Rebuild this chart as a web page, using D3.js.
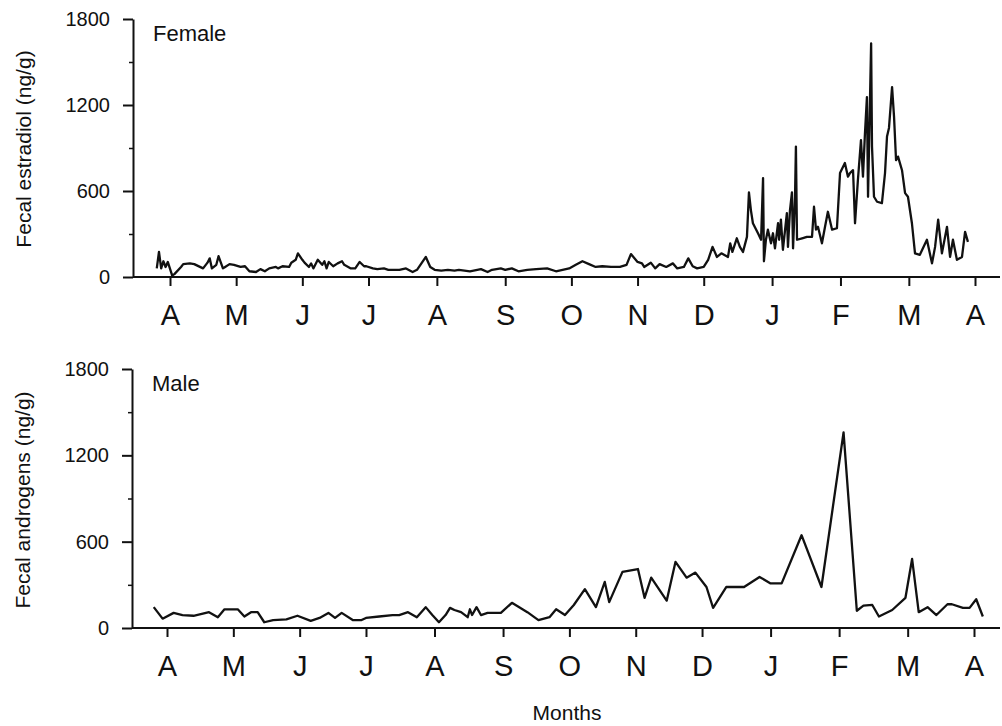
<!DOCTYPE html>
<html>
<head>
<meta charset="utf-8">
<script src="https://cdn.jsdelivr.net/npm/d3@7"></script>
<style>
  body { margin: 0; background: #fff; }
  svg text { font-family: "Liberation Sans", Arial, Helvetica, sans-serif; fill: #111; }
</style>
</head>
<body>
<svg id="chart" width="1002" height="726"></svg>
<script>
// month ticks, in days counted from the first April tick
var monthLabels = ["A", "M", "J", "J", "A", "S", "O", "N", "D", "J", "F", "M", "A"];
var monthTickDays = [0, 30, 60, 90, 121, 152, 182, 212, 242, 273, 304, 335, 365];
var yTicks = [0, 600, 1200, 1800];
var yMinorTicks = [300, 900, 1500];

// female, fecal estradiol (ng/g)
var femaleDays = [-6, -5, -4, -3, -2, -1, 1, 2, 5, 6, 9, 11, 15, 17, 18, 19, 21, 22, 24, 25,
  27, 29, 32, 34, 36, 39, 41, 43, 45, 48, 49, 51, 54, 55, 57, 58, 60, 61, 63, 64,
  65, 67, 69, 70, 71, 72, 74, 76, 78, 79, 82, 84, 86, 88, 89, 92, 94, 97, 99, 101,
  104, 107, 110, 112, 114, 116, 118, 120, 123, 126, 129, 131, 136, 141, 144, 146, 150, 152, 155, 158,
  162, 166, 171, 175, 178, 181, 184, 187, 190, 193, 196, 200, 204, 207, 209, 212, 214, 215, 218, 220,
  222, 225, 228, 230, 233, 235, 237, 239, 242, 244, 246, 248, 250, 253, 254, 255, 257,
  258.4, 259.8, 261.6, 262.5, 263.4, 264.3, 266.6, 268, 268.9, 269.3,
  270.2, 271.1, 272.5, 273.4, 274.3, 275.7, 276.2, 277, 277.9, 279.7,
  280.2, 281.1, 282, 282.5, 283.4, 283.8, 284.3, 286.6, 288.8, 291.1,
  292, 292.9, 293.8, 295.6, 297, 298.3, 300.2, 302.4, 303.8, 306,
  307.4, 308.3, 309.7, 310.6, 311.9, 313.3, 314.2, 315.1, 316, 316.5,
  317.9, 318.3, 319.2, 320.6, 322.8, 324.2, 325.1, 326, 327.4, 328.3,
  329.2, 330.1, 331.9, 333.3, 334.6, 336.4, 337.8, 340, 343.2, 345.5,
  346.9, 348.3, 350, 352.3, 353.7, 355, 356.8, 359.1, 360.5, 361.8];
var femaleValues = [60, 175, 60, 110, 70, 105, 10, 20, 70, 90, 95, 90, 60, 100, 130, 60, 85, 145, 60, 70,
  90, 85, 70, 75, 40, 35, 55, 40, 60, 70, 60, 75, 70, 100, 120, 165, 120, 100, 70, 95,
  60, 120, 85, 110, 60, 105, 75, 95, 110, 85, 60, 60, 105, 75, 75, 60, 55, 60, 50, 50,
  50, 60, 35, 50, 95, 140, 70, 50, 45, 50, 45, 50, 40, 55, 35, 50, 60, 50, 60, 40,
  50, 55, 60, 40, 50, 60, 85, 110, 90, 70, 75, 70, 70, 85, 160, 105, 95, 70, 100, 60,
  90, 70, 95, 60, 70, 130, 75, 60, 70, 120, 210, 140, 165, 140, 235, 175, 270,
  210, 175, 280, 590, 465, 375, 305, 260, 690, 110,
  260, 330, 235, 305, 200, 375, 260, 400, 190, 445,
  210, 465, 590, 200, 560, 910, 260, 270, 280, 280,
  490, 330, 350, 235, 350, 455, 330, 340, 725, 795,
  700, 725, 745, 375, 675, 955, 700, 1000, 1255, 560,
  1630, 910, 560, 525, 515, 725, 980, 1040, 1325, 1115,
  815, 840, 745, 585, 560, 375, 165, 155, 260, 95,
  210, 400, 165, 350, 140, 260, 120, 140, 315, 245];

// male, fecal androgens (ng/g)
var maleDays = [-6, -2, 3, 7, 12, 19, 23, 26, 32, 35, 38, 41, 44, 48, 54, 59, 65, 69, 73, 76,
  79, 84, 88, 90, 96, 102, 105, 109, 113, 117, 120, 123, 126, 128, 130, 133, 136, 137, 138, 140,
  142, 145, 151, 156, 163, 168, 173, 176, 180, 184, 189, 194, 198, 200, 206, 213, 216, 219, 226, 230,
  235, 239, 244, 247, 253, 261, 268, 273, 278, 287, 296, 306, 312, 315, 319, 322, 328, 334, 337, 340,
  344, 348, 353, 355, 360, 363, 366, 369];
var maleValues = [145, 65, 105, 90, 85, 110, 75, 130, 130, 80, 110, 110, 40, 55, 60, 85, 50, 70, 105, 70,
  105, 55, 55, 70, 80, 90, 90, 110, 75, 145, 90, 40, 90, 140, 125, 110, 75, 130, 90, 145,
  90, 105, 105, 175, 110, 55, 75, 130, 90, 160, 270, 145, 320, 180, 390, 410, 210, 350, 190, 460,
  350, 385, 285, 140, 285, 285, 355, 310, 310, 645, 285, 1360, 120, 155, 160, 80, 125, 210, 480, 110,
  145, 90, 165, 165, 140, 140, 200, 80];

var svg = d3.select("#chart");
var width = 1002;

function drawPanel(opts) {
  var x = d3.scaleLinear().domain([0, 365]).range(opts.xRange);
  var y = d3.scaleLinear().domain([0, 1800]).range(opts.yRange);
  var g = svg.append("g");

  // y axis, major ticks with labels
  var yAxis = g.append("g")
    .attr("transform", "translate(" + opts.axisX + ",0)")
    .call(d3.axisLeft(y).tickValues(yTicks).tickFormat(d3.format("d"))
      .tickSize(10).tickPadding(13).tickSizeOuter(0));
  yAxis.select(".domain").attr("stroke", "#111").attr("stroke-width", 2);
  yAxis.selectAll(".tick line").attr("stroke", "#111").attr("stroke-width", 2);
  yAxis.selectAll("text").style("font-size", "20px").attr("fill", "#111");

  // minor ticks
  var yMinor = g.append("g")
    .attr("transform", "translate(" + opts.axisX + ",0)")
    .call(d3.axisLeft(y).tickValues(yMinorTicks).tickSize(4).tickFormat(""));
  yMinor.select(".domain").remove();
  yMinor.selectAll(".tick line").attr("stroke", "#111").attr("stroke-width", 1.5);

  // x axis: month ticks below the baseline
  var xAxis = g.append("g")
    .attr("transform", "translate(0," + y(0) + ")")
    .call(d3.axisBottom(x).tickValues(monthTickDays).tickSize(9).tickPadding(18)
      .tickFormat(function(d, i) { return monthLabels[i]; }));
  xAxis.select(".domain").remove();
  xAxis.selectAll(".tick line").attr("stroke", "#111").attr("stroke-width", 2);
  xAxis.selectAll("text").style("font-size", "29px").attr("fill", "#111");

  // baseline runs across the whole width
  g.append("line")
    .attr("x1", opts.axisX).attr("x2", width - 2)
    .attr("y1", y(0)).attr("y2", y(0))
    .attr("stroke", "#111").attr("stroke-width", 2);

  var line = d3.line()
    .x(function(d) { return x(d[0]); })
    .y(function(d) { return y(d[1]); });

  var pts = d3.zip(opts.days, opts.values);
  g.append("path")
    .datum(pts)
    .attr("d", line)
    .attr("fill", "none")
    .attr("stroke", "#111")
    .attr("stroke-width", 2.3)
    .attr("stroke-linejoin", "round");

  g.append("text")
    .attr("x", opts.axisX + 20)
    .attr("y", y(1800) + 22)
    .style("font-size", "22px")
    .text(opts.title);

  g.append("text")
    .attr("transform", "translate(" + opts.labelX + "," + opts.labelY + ") rotate(-90)")
    .attr("text-anchor", "middle")
    .style("font-size", "21px")
    .text(opts.yLabel);
}

drawPanel({
  xRange: [170, 975], yRange: [277, 19], axisX: 133, labelX: 31, labelY: 149,
  days: femaleDays, values: femaleValues,
  title: "Female", yLabel: "Fecal estradiol (ng/g)"
});

drawPanel({
  xRange: [167, 974], yRange: [628, 369], axisX: 132, labelX: 30, labelY: 500,
  days: maleDays, values: maleValues,
  title: "Male", yLabel: "Fecal androgens (ng/g)"
});

svg.append("text")
  .attr("x", 567)
  .attr("y", 720)
  .attr("text-anchor", "middle")
  .style("font-size", "21px")
  .text("Months");
</script>
</body>
</html>
